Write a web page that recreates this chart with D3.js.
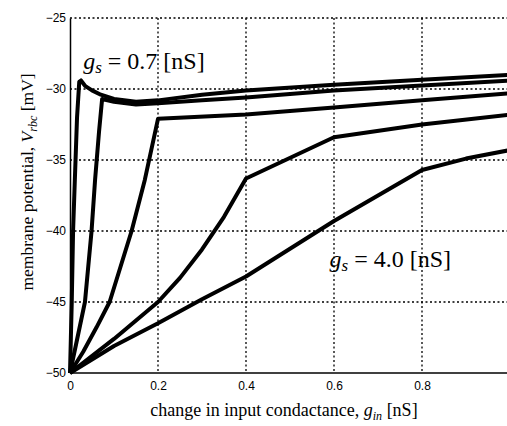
<!doctype html>
<html>
<head>
<meta charset="utf-8">
<script src="https://cdn.jsdelivr.net/npm/d3@7"></script>
<style>
  body { margin: 0; background: #fff; }
  .tick text { font-family: "Liberation Sans", Arial, sans-serif; font-size: 12px; }
  .title { font-family: "Liberation Serif", "Times New Roman", serif; }
</style>
</head>
<body>
<svg id="chart" width="507" height="426"></svg>
<script>
// each curve is [g_in, V_rbc] pairs
var curveA = [[0, -50], [0.002, -47.5], [0.004, -45], [0.007, -40], [0.011, -36.4], [0.016, -32], [0.021, -29.5], [0.025, -29.4],
              [0.035, -29.8], [0.05, -30.1], [0.07, -30.4], [0.1, -30.7], [0.15, -30.9], [0.2, -30.8], [0.3, -30.4], [0.4, -30.1],
              [0.6, -29.7], [0.8, -29.35], [1.0, -29.0]]
var curveB = [[0, -50], [0.015, -47.8], [0.034, -45], [0.049, -40], [0.057, -36.4], [0.066, -33], [0.073, -30.7], [0.1, -30.9],
              [0.15, -31.1], [0.2, -31.0], [0.3, -30.8], [0.4, -30.6], [0.6, -30.1], [0.8, -29.75], [1.0, -29.4]]
var curveC = [[0, -50], [0.03, -48.5], [0.06, -46.8], [0.09, -45], [0.115, -42.5], [0.14, -40], [0.17, -36.4], [0.2, -32.1],
              [0.4, -31.8], [0.6, -31.3], [0.8, -30.8], [1.0, -30.3]]
var curveD = [[0, -50], [0.1, -47.6], [0.2, -45], [0.25, -43.3], [0.3, -41.3], [0.35, -39.0], [0.4, -36.3], [0.6, -33.4],
              [0.8, -32.5], [1.0, -31.8]]
var curveE = [[0, -50], [0.1, -48.1], [0.2, -46.5], [0.3, -44.8], [0.4, -43.2], [0.6, -39.3], [0.8, -35.7], [0.9, -34.9], [1.0, -34.3]]
var curves = [curveA, curveB, curveC, curveD, curveE]

var xTicks = [0, 0.2, 0.4, 0.6, 0.8]
var yTicks = [-50, -45, -40, -35, -30, -25]
var labelTop = ['0.7', 0.03, -28.6]
var labelBottom = ['4.0', 0.59, -42.5]

var LEFT = 70, RIGHT = 510, TOP = 18, BOTTOM = 373

var svg = d3.select('#chart')
var x = d3.scaleLinear().domain([0, 1]).range([LEFT, RIGHT])
var y = d3.scaleLinear().domain([-50, -25]).range([BOTTOM, TOP])

// dotted grid
svg.append('g').selectAll('line').data(xTicks.filter(d => d > 0)).enter().append('line')
    .attr('x1', d => x(d)).attr('x2', d => x(d)).attr('y1', y(-25)).attr('y2', y(-50))
    .attr('stroke', '#000').attr('stroke-width', 1.3).attr('stroke-dasharray', '2,2.5')
svg.append('g').selectAll('line').data(yTicks.filter(d => d > -50)).enter().append('line')
    .attr('x1', x(0)).attr('x2', 507).attr('y1', d => y(d)).attr('y2', d => y(d))
    .attr('stroke', '#000').attr('stroke-width', 1.3).attr('stroke-dasharray', '2,2.5')

var xAxis = svg.append('g').attr('transform', 'translate(0,' + BOTTOM + ')')
    .call(d3.axisBottom(x).tickValues(xTicks).tickSize(0).tickPadding(8).tickFormat(d3.format('')))
var yAxis = svg.append('g').attr('transform', 'translate(' + LEFT + ',0)')
    .call(d3.axisLeft(y).tickValues(yTicks).tickSize(0).tickPadding(4))
xAxis.select('.domain').attr('stroke-width', 1.5).attr('d', 'M' + LEFT + ',0H507')
yAxis.select('.domain').attr('stroke-width', 1.5)
svg.selectAll('.tick text').attr('fill', '#000')

var line = d3.line().x(d => x(d[0])).y(d => y(d[1]))
svg.append('g').selectAll('path').data(curves).enter().append('path')
    .attr('d', line).attr('fill', 'none').attr('stroke', '#000')
    .attr('stroke-width', 4).attr('stroke-linejoin', 'round')

// g_s annotations
function gsLabel(lbl) {
    var t = svg.append('text').attr('class', 'title').attr('font-size', 24)
        .attr('x', x(lbl[1])).attr('y', y(lbl[2]))
    t.append('tspan').attr('font-style', 'italic').text('g')
    t.append('tspan').attr('font-style', 'italic').attr('font-size', 17).attr('dy', 4).text('s')
    t.append('tspan').attr('dy', -4).text(' = ' + lbl[0] + ' [nS]')
}
gsLabel(labelTop)
gsLabel(labelBottom)

// axis titles
var xt = svg.append('text').attr('class', 'title').attr('font-size', 18)
    .attr('text-anchor', 'middle').attr('x', 284).attr('y', 416)
xt.append('tspan').text('change in input condactance, ')
xt.append('tspan').attr('font-style', 'italic').text('g')
xt.append('tspan').attr('font-style', 'italic').attr('font-size', 12).attr('dy', 4).text('in')
xt.append('tspan').attr('dy', -4).text(' [nS]')

var yt = svg.append('text').attr('class', 'title').attr('font-size', 17.5)
    .attr('text-anchor', 'middle').attr('transform', 'translate(33,182) rotate(-90)')
yt.append('tspan').text('membrane potential, ')
yt.append('tspan').attr('font-style', 'italic').text('V')
yt.append('tspan').attr('font-style', 'italic').attr('font-size', 12).attr('dy', 4).text('rbc')
yt.append('tspan').attr('dy', -4).text(' [mV]')
</script>
</body>
</html>
